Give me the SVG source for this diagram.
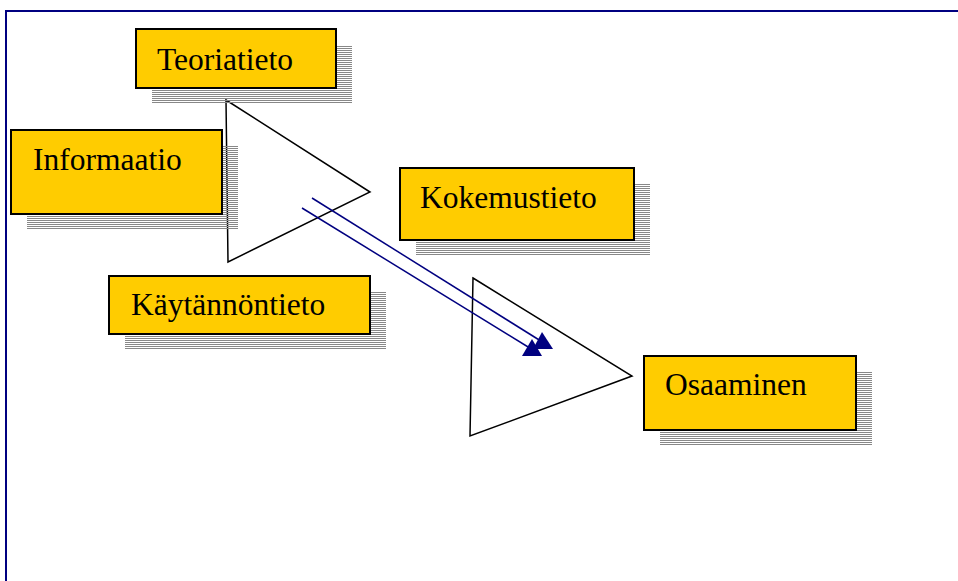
<svg xmlns="http://www.w3.org/2000/svg" width="958" height="581" viewBox="0 0 958 581">
<defs>
<pattern id="hatch" width="4" height="2" patternUnits="userSpaceOnUse">
<rect x="0" y="0" width="4" height="1" fill="#888"/>
</pattern>
</defs>
<style>
.box{fill:#FFCC00;stroke:#000;stroke-width:2}
.sh{fill:url(#hatch)}
.lbl{font-family:"Liberation Serif","Times New Roman",serif;font-size:31.5px;fill:#000}
.tri{fill:none;stroke:#000;stroke-width:1.5}
.con{stroke:#000080;stroke-width:1.5;fill:none}
.hd{fill:#000080}
</style>
<rect width="958" height="581" fill="#fff"/>
<g id="frame">
<path d="M958,11 L6,11 L6,581" fill="none" stroke="#000080" stroke-width="2"/>
</g>
<g id="triangles">
<polygon class="tri" points="226,100 370,192 228,262"/>
<polygon class="tri" points="473,278 632,376 470,436"/>
</g>
<g id="connectors">
<line class="con" x1="312" y1="198" x2="544" y2="343"/>
<polygon class="hd" points="542,332 553,349 533,349"/>
<line class="con" x1="302" y1="208" x2="533" y2="350"/>
<polygon class="hd" points="532,339 542,356 522,356"/>
</g>
<g id="n-teoriatieto">
<rect class="sh" x="152" y="45" width="200" height="59"/>
<rect class="box" x="136" y="29" width="200" height="59"/>
<text class="lbl" x="157" y="70">Teoriatieto</text>
</g>
<g id="n-informaatio">
<rect class="sh" x="27" y="146" width="211" height="84"/>
<rect class="box" x="11" y="130" width="211" height="84"/>
<text class="lbl" x="33" y="170">Informaatio</text>
</g>
<g id="n-kokemustieto">
<rect class="sh" x="416" y="184" width="234" height="72"/>
<rect class="box" x="400" y="168" width="234" height="72"/>
<text class="lbl" x="420" y="208">Kokemustieto</text>
</g>
<g id="n-kaytannontieto">
<rect class="sh" x="125" y="292" width="261" height="58"/>
<rect class="box" x="109" y="276" width="261" height="58"/>
<text class="lbl" x="131" y="315">Käytännöntieto</text>
</g>
<g id="n-osaaminen">
<rect class="sh" x="660" y="372" width="212" height="74"/>
<rect class="box" x="644" y="356" width="212" height="74"/>
<text class="lbl" x="665" y="395">Osaaminen</text>
</g>
</svg>
